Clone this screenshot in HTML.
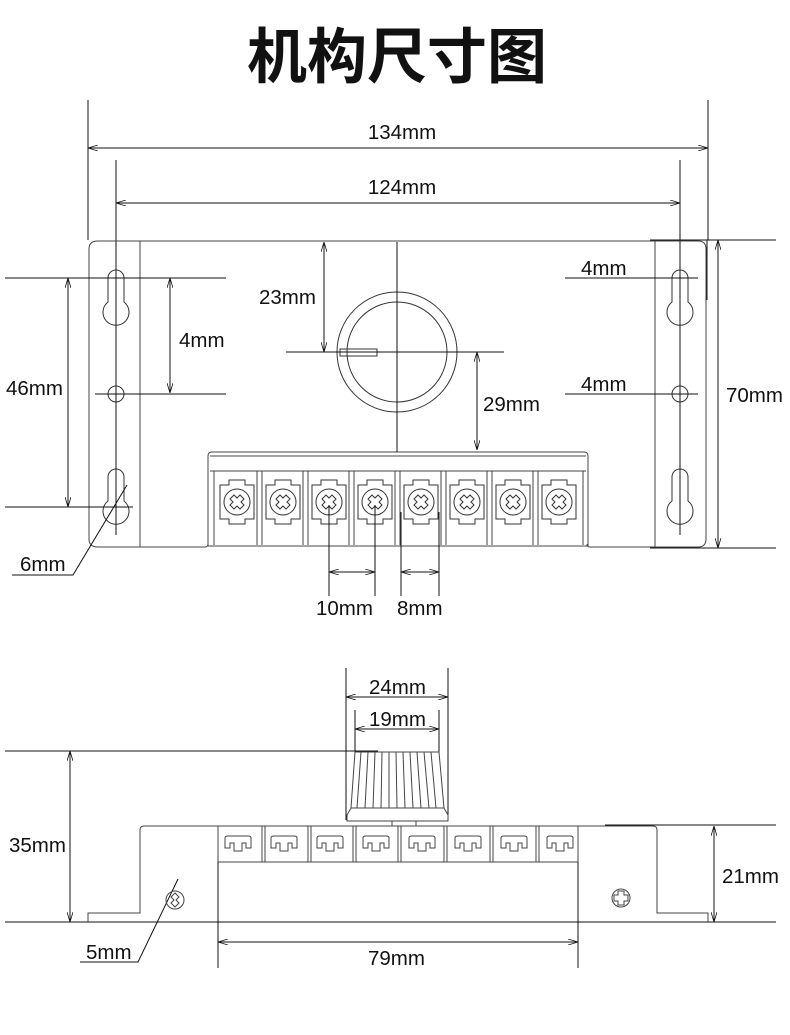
<!DOCTYPE html>
<html><head><meta charset="utf-8"><style>
html,body{margin:0;padding:0;background:#fff}
svg{display:block}
text{font-family:"Liberation Sans",Arial,sans-serif;font-size:20.5px;fill:#111}
</style></head><body>
<svg width="790" height="1035" viewBox="0 0 790 1035" xmlns="http://www.w3.org/2000/svg">
<defs>
<marker id="a" viewBox="0 0 10 6" refX="10" refY="3" markerWidth="10" markerHeight="6" orient="auto-start-reverse" markerUnits="userSpaceOnUse">
<path d="M0,0 L10,3 L0,6" fill="none" stroke="#111" stroke-width="0.8"/></marker>
<g id="kh">
<path d="M-8,0 A8,8 0 0 1 8,0 L8,24 A13,13 0 1 1 -8,24 Z" fill="none" stroke="#333" stroke-width="1"/>
</g>
</defs>

<text x="397" y="78" text-anchor="middle" style="font-family:'Noto Sans CJK SC',sans-serif;font-size:60px;font-weight:bold">机构尺寸图</text>

<g stroke="#111" stroke-width="1" fill="none">
<line x1="88" y1="100" x2="88" y2="240"/><line x1="708" y1="100" x2="708" y2="240"/>
<line x1="88" y1="148" x2="708" y2="148" marker-start="url(#a)" marker-end="url(#a)"/>
<line x1="116" y1="160" x2="116" y2="535"/><line x1="680" y1="160" x2="680" y2="535"/>
<line x1="116" y1="203" x2="680" y2="203" marker-start="url(#a)" marker-end="url(#a)"/>
</g>
<text x="402" y="139" text-anchor="middle">134mm</text>
<text x="402" y="194" text-anchor="middle">124mm</text>

<g stroke="#444" stroke-width="1" fill="none">
<path d="M98,241 H698 Q706,241 706,249 V539 Q706,547 698,547 H590 Q587,547 587,544 M208,544 Q208,547 205,547 H98 Q89,547 89,539 V249 Q89,241 98,241"/>
<line x1="140" y1="241" x2="140" y2="547"/>
<line x1="655" y1="241" x2="655" y2="547"/>
<path d="M208,546 V456 Q208,452 212,452 H584 Q588,452 588,456 V546"/>
<line x1="210" y1="456" x2="586" y2="456"/>
<line x1="210" y1="471" x2="586" y2="471"/>
<line x1="208" y1="546" x2="588" y2="546"/>
<line x1="214" y1="471" x2="214" y2="545"/><line x1="583" y1="471" x2="583" y2="545"/>
</g>
<g stroke="#444" stroke-width="1">
<line x1="257" y1="471" x2="257" y2="545"/><line x1="262" y1="471" x2="262" y2="545"/>
<line x1="303" y1="471" x2="303" y2="545"/><line x1="308" y1="471" x2="308" y2="545"/>
<line x1="349" y1="471" x2="349" y2="545"/><line x1="354" y1="471" x2="354" y2="545"/>
<line x1="395" y1="471" x2="395" y2="545"/><line x1="400" y1="471" x2="400" y2="545"/>
<line x1="441" y1="471" x2="441" y2="545"/><line x1="446" y1="471" x2="446" y2="545"/>
<line x1="487" y1="471" x2="487" y2="545"/><line x1="492" y1="471" x2="492" y2="545"/>
<line x1="533" y1="471" x2="533" y2="545"/><line x1="538" y1="471" x2="538" y2="545"/>
</g>
<g stroke="#333" stroke-width="1" fill="none">
<g transform="translate(237,502)"><path d="M-17,-17 h9 v-5 h16 v5 h9 v34 h-9 v5 h-16 v-5 h-9 Z"/><circle r="13"/><path d="M-7,-3 L-3,-7 L0,-4 L3,-7 L7,-3 L4,0 L7,3 L3,7 L0,4 L-3,7 L-7,3 L-4,0 Z"/></g>
<g transform="translate(283,502)"><path d="M-17,-17 h9 v-5 h16 v5 h9 v34 h-9 v5 h-16 v-5 h-9 Z"/><circle r="13"/><path d="M-7,-3 L-3,-7 L0,-4 L3,-7 L7,-3 L4,0 L7,3 L3,7 L0,4 L-3,7 L-7,3 L-4,0 Z"/></g>
<g transform="translate(329,502)"><path d="M-17,-17 h9 v-5 h16 v5 h9 v34 h-9 v5 h-16 v-5 h-9 Z"/><circle r="13"/><path d="M-7,-3 L-3,-7 L0,-4 L3,-7 L7,-3 L4,0 L7,3 L3,7 L0,4 L-3,7 L-7,3 L-4,0 Z"/></g>
<g transform="translate(375,502)"><path d="M-17,-17 h9 v-5 h16 v5 h9 v34 h-9 v5 h-16 v-5 h-9 Z"/><circle r="13"/><path d="M-7,-3 L-3,-7 L0,-4 L3,-7 L7,-3 L4,0 L7,3 L3,7 L0,4 L-3,7 L-7,3 L-4,0 Z"/></g>
<g transform="translate(421,502)"><path d="M-17,-17 h9 v-5 h16 v5 h9 v34 h-9 v5 h-16 v-5 h-9 Z"/><circle r="13"/><path d="M-7,-3 L-3,-7 L0,-4 L3,-7 L7,-3 L4,0 L7,3 L3,7 L0,4 L-3,7 L-7,3 L-4,0 Z"/></g>
<g transform="translate(467,502)"><path d="M-17,-17 h9 v-5 h16 v5 h9 v34 h-9 v5 h-16 v-5 h-9 Z"/><circle r="13"/><path d="M-7,-3 L-3,-7 L0,-4 L3,-7 L7,-3 L4,0 L7,3 L3,7 L0,4 L-3,7 L-7,3 L-4,0 Z"/></g>
<g transform="translate(513,502)"><path d="M-17,-17 h9 v-5 h16 v5 h9 v34 h-9 v5 h-16 v-5 h-9 Z"/><circle r="13"/><path d="M-7,-3 L-3,-7 L0,-4 L3,-7 L7,-3 L4,0 L7,3 L3,7 L0,4 L-3,7 L-7,3 L-4,0 Z"/></g>
<g transform="translate(559,502)"><path d="M-17,-17 h9 v-5 h16 v5 h9 v34 h-9 v5 h-16 v-5 h-9 Z"/><circle r="13"/><path d="M-7,-3 L-3,-7 L0,-4 L3,-7 L7,-3 L4,0 L7,3 L3,7 L0,4 L-3,7 L-7,3 L-4,0 Z"/></g>
<use href="#kh" x="116" y="278"/><use href="#kh" x="116" y="477"/>
<use href="#kh" x="680" y="278"/><use href="#kh" x="680" y="477"/>
<circle cx="116" cy="394" r="8"/><circle cx="680" cy="394" r="8"/>
<circle cx="397" cy="352" r="60"/><circle cx="397" cy="352" r="50"/>
<rect x="340" y="349" width="37" height="7"/>
</g>

<g stroke="#111" stroke-width="1" fill="none">
<line x1="397" y1="242" x2="397" y2="452"/>
<line x1="286" y1="352" x2="504" y2="352"/>
<line x1="324" y1="242" x2="324" y2="352" marker-start="url(#a)" marker-end="url(#a)"/>
<line x1="477" y1="352" x2="477" y2="450" marker-start="url(#a)" marker-end="url(#a)"/>
<line x1="5" y1="278" x2="226" y2="278"/>
<line x1="95" y1="394" x2="226" y2="394"/>
<line x1="5" y1="507" x2="133" y2="507"/>
<line x1="68" y1="278" x2="68" y2="507" marker-start="url(#a)" marker-end="url(#a)"/>
<line x1="170" y1="278" x2="170" y2="393" marker-start="url(#a)" marker-end="url(#a)"/>
<line x1="565" y1="278" x2="698" y2="278"/>
<line x1="565" y1="394" x2="698" y2="394"/>
<line x1="650" y1="240" x2="776" y2="240"/>
<line x1="650" y1="548" x2="776" y2="548"/>
<line x1="707" y1="240" x2="707" y2="300"/>
<line x1="718" y1="240" x2="718" y2="548" marker-start="url(#a)" marker-end="url(#a)"/>
<line x1="329" y1="505" x2="329" y2="596"/><line x1="375" y1="505" x2="375" y2="596"/>
<line x1="401" y1="512" x2="401" y2="596"/><line x1="439" y1="512" x2="439" y2="596"/>
<line x1="329" y1="572" x2="375" y2="572" marker-start="url(#a)" marker-end="url(#a)"/>
<line x1="401" y1="572" x2="439" y2="572" marker-start="url(#a)" marker-end="url(#a)"/>
<polyline points="127,485 73,575 12,575"/>
</g>
<text x="179" y="347">4mm</text>
<text x="259" y="304">23mm</text>
<text x="6" y="395">46mm</text>
<text x="483" y="411">29mm</text>
<text x="581" y="275">4mm</text>
<text x="581" y="391">4mm</text>
<text x="726" y="402">70mm</text>
<text x="20" y="571">6mm</text>
<text x="316" y="615">10mm</text>
<text x="397" y="615">8mm</text>

<g stroke="#111" stroke-width="1" fill="none">
<line x1="346" y1="668" x2="346" y2="820"/><line x1="448" y1="668" x2="448" y2="820"/>
<line x1="346" y1="697" x2="448" y2="697" marker-start="url(#a)" marker-end="url(#a)"/>
<line x1="355" y1="710" x2="355" y2="752"/><line x1="439" y1="710" x2="439" y2="752"/>
<line x1="355" y1="729" x2="439" y2="729" marker-start="url(#a)" marker-end="url(#a)"/>
<line x1="5" y1="751" x2="378" y2="751"/>
<line x1="70" y1="751" x2="70" y2="922" marker-start="url(#a)" marker-end="url(#a)"/>
<line x1="5" y1="922" x2="776" y2="922"/>
<line x1="605" y1="825" x2="776" y2="825"/>
<line x1="714" y1="826" x2="714" y2="922" marker-start="url(#a)" marker-end="url(#a)"/>
<line x1="218" y1="836" x2="218" y2="968"/><line x1="578" y1="836" x2="578" y2="968"/>
<line x1="218" y1="942" x2="578" y2="942" marker-start="url(#a)" marker-end="url(#a)"/>
<polyline points="178,879 138,962 80,962"/>
</g>
<g stroke="#444" stroke-width="1" fill="none">
<path d="M355,752 H439 L444,808 H351 Z"/>
<path d="M361,752 L357,808 M368,752 L365,808 M375,752 L373,808 M382,752 L381,808 M389,752 L389,808 M396,752 L397,808 M403,752 L405,808 M410,752 L413,808 M417,752 L421,808 M424,752 L429,808 M431,752 L436,808"/>
<path d="M351,808 L347,815 V821 H448 V815 L444,808"/>
<rect x="392" y="821" width="24" height="5"/>
<path d="M88,922 V913 H140 V830 Q140,826 144,826 H653 Q657,826 657,830 V913 H708 V922"/>
<line x1="218" y1="862" x2="578" y2="862"/>
<path d="M218,826 V862 M578,826 V862"/>
<path d="M262,826 V862 M265,826 V862 M308,826 V862 M311,826 V862 M353,826 V862 M356,826 V862 M398,826 V862 M401,826 V862 M444,826 V862 M447,826 V862 M490,826 V862 M493,826 V862 M536,826 V862 M539,826 V862"/>
<g id="hk"><path d="M225,848 V838 Q225,836 228,836 H248 Q251,836 251,838 V848 H246 V843 H242 V851 H234 V843 H230 V848 Z"/></g>
<use href="#hk" x="46"/><use href="#hk" x="92"/><use href="#hk" x="138"/><use href="#hk" x="184"/><use href="#hk" x="230"/><use href="#hk" x="276"/><use href="#hk" x="322"/>
<circle cx="175" cy="900" r="9"/><path d="M171,897 l4,-4 4,4 -3,3 3,3 -4,4 -4,-4 3,-3 Z"/>
<circle cx="621" cy="898" r="9"/><path d="M618,891 h6 v4 h4 v6 h-4 v4 h-6 v-4 h-4 v-6 h4 Z"/>
</g>
<text x="369" y="694">24mm</text>
<text x="369" y="726">19mm</text>
<text x="9" y="852">35mm</text>
<text x="722" y="883">21mm</text>
<text x="86" y="959">5mm</text>
<text x="368" y="965">79mm</text>
</svg>
</body></html>
